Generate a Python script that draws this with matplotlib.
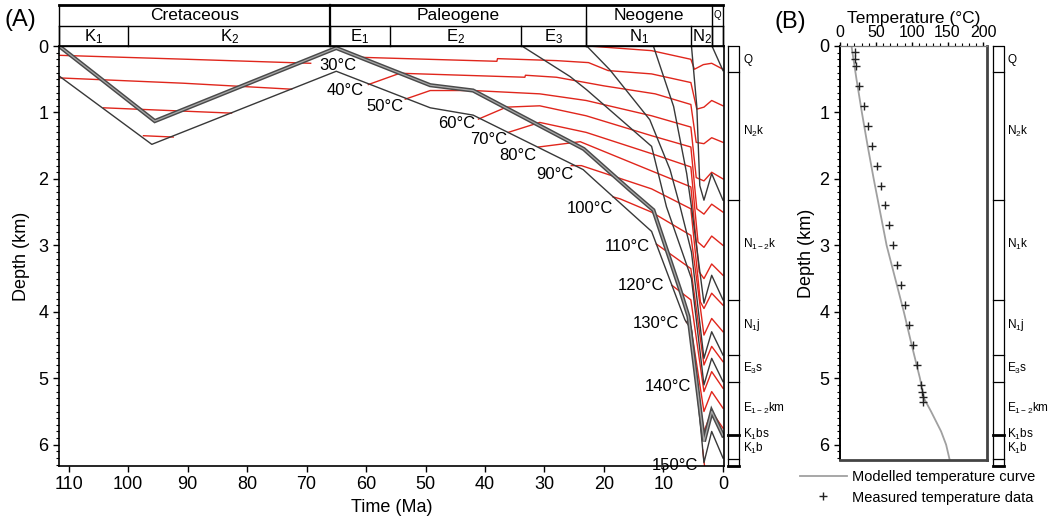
import matplotlib
matplotlib.use('Agg')
import matplotlib.pyplot as plt
from matplotlib.ticker import MultipleLocator

plt.rcParams['font.family'] = ['Liberation Sans', 'DejaVu Sans']
plt.rcParams['mathtext.fontset'] = 'custom'
plt.rcParams['mathtext.rm'] = 'Liberation Sans'
plt.rcParams['mathtext.it'] = 'Liberation Sans'
plt.rcParams['mathtext.default'] = 'regular'

# ---------------- data: burial history (panel A) ----------------
# horizons, (time Ma, depth km)
thick_t = [111.6, 95.5, 65.0, 49.2, 42.0, 23.4, 15.6, 11.7, 7.2, 5.8, 3.2, 1.9, 0.0]
thick_d = [0.0, 1.13, 0.03, 0.59, 0.67, 1.55, 2.17, 2.47, 3.67, 4.07, 5.95, 5.5, 5.86]
base_t = [111.6, 96.0, 65.0, 49.2, 42.0, 23.5, 21.8, 12.0, 6.4, 5.3, 3.2, 1.9, 0.0]
base_d = [0.45, 1.48, 0.38, 0.93, 1.04, 1.86, 2.0, 2.79, 4.12, 4.27, 6.27, 5.8, 6.2]
hor_t = [
    [33.8, 25.7, 22.9, 12.0, 9.5, 5.3, 3.2, 1.9, 0.0],
    [22.9, 19.0, 12.3, 8.9, 7.2, 5.3, 3.2, 1.9, 0.0],
    [11.7, 8.3, 6.1, 5.3, 3.2, 1.9, 0.0],
    [5.3, 4.4, 3.9, 3.2, 1.9, 0.0],
    [1.85, 0.0],
]
hor_d = [
    [0.0, 0.46, 0.66, 1.51, 2.42, 3.5, 5.1, 4.7, 5.05],
    [0.0, 0.36, 1.11, 1.86, 2.42, 3.1, 4.7, 4.3, 4.65],
    [0.0, 0.91, 1.92, 2.42, 3.87, 3.45, 3.82],
    [0.0, 0.91, 2.1, 2.32, 1.92, 2.32],
    [0.0, 0.37],
]

# isotherms in the Cretaceous
k_iso_t = [[111.6, 90.0, 69.3], [111.6, 90.7, 72.5], [104.1, 82.6], [97.4, 92.4]]
k_iso_d = [[0.14, 0.2, 0.26], [0.48, 0.56, 0.65], [0.93, 1.01], [1.35, 1.37]]

# isotherms in the Cenozoic
iso_temp = [20, 30, 40, 50, 60, 70, 80, 90, 100, 110, 120, 130, 140, 150]
iso_t = [
    [22.6, 12.0, 5.4, 4.8, 3.3, 1.9, 0.0],
    [61.0, 38.0, 37.9, 28.0, 22.6, 19.3, 12.0, 5.4, 4.4, 3.2, 1.9, 0.0],
    [59.6, 54.3, 33.3, 33.2, 28.0, 20.0, 11.4, 5.4, 4.5, 3.2, 1.9, 0.0],
    [53.4, 49.2, 42.0, 30.8, 23.0, 12.0, 5.4, 4.5, 3.2, 1.9, 0.0],
    [41.1, 36.4, 30.8, 23.0, 12.0, 5.4, 4.4, 3.2, 1.9, 0.0],
    [36.1, 30.8, 23.0, 12.0, 5.4, 4.2, 3.2, 1.9, 0.0],
    [31.0, 24.0, 12.0, 5.4, 4.0, 3.2, 1.9, 0.0],
    [25.5, 23.8, 12.0, 5.4, 3.8, 3.2, 1.9, 0.0],
    [18.5, 17.3, 12.0, 5.4, 3.2, 1.9, 0.0],
    [11.2, 5.4, 3.2, 1.9, 0.0],
    [8.6, 5.4, 3.2, 1.9, 0.0],
    [6.2, 5.4, 3.2, 1.9, 0.0],
    [4.4, 3.2, 1.9, 0.0],
    [3.4, 3.1],
]
iso_d = [
    [0.0, 0.07, 0.2, 0.35, 0.28, 0.26, 0.35],
    [0.17, 0.23, 0.19, 0.22, 0.25, 0.37, 0.42, 0.55, 0.95, 0.92, 0.82, 0.9],
    [0.58, 0.41, 0.47, 0.44, 0.47, 0.6, 0.72, 0.88, 1.45, 1.47, 1.38, 1.45],
    [0.8, 0.67, 0.67, 0.72, 0.82, 1.05, 1.22, 1.98, 2.03, 1.9, 2.0],
    [1.1, 0.92, 0.9, 1.05, 1.35, 1.52, 2.45, 2.53, 2.38, 2.5],
    [1.3, 1.15, 1.3, 1.62, 1.82, 2.95, 3.03, 2.86, 3.0],
    [1.52, 1.44, 1.88, 2.12, 3.4, 3.5, 3.28, 3.45],
    [1.8, 1.8, 2.15, 2.45, 3.85, 3.95, 3.72, 3.9],
    [2.27, 2.3, 2.5, 2.85, 4.35, 4.1, 4.3],
    [2.98, 3.35, 4.8, 4.52, 4.75],
    [3.6, 3.82, 5.2, 4.9, 5.15],
    [4.15, 4.22, 5.5, 5.2, 5.45],
    [5.1, 5.8, 5.5, 5.75],
    [6.08, 6.32],
]
# isotherm label positions (time, depth)
lab_temp = [30, 40, 50, 60, 70, 80, 90, 100, 110, 120, 130, 140, 150]
lab_t = [64.8, 63.5, 56.8, 44.8, 39.3, 34.5, 28.2, 22.3, 16.1, 13.8, 11.2, 9.3, 8.1]
lab_d = [0.29, 0.67, 0.91, 1.16, 1.40, 1.65, 1.93, 2.45, 3.02, 3.60, 4.18, 5.12, 6.31]

# geological time scale
period_names = ['Cretaceous', 'Paleogene', 'Neogene', 'Q']
period_bounds = [111.6, 66.0, 23.0, 1.85, 0.0]
epoch_names = ['K$_{1}$', 'K$_{2}$', 'E$_{1}$', 'E$_{2}$', 'E$_{3}$', 'N$_{1}$', 'N$_{2}$', '']
epoch_bounds = [111.6, 100.0, 66.0, 56.0, 33.9, 23.0, 5.3, 1.85, 0.0]

# stratigraphic column (present-day depths, km)
strat_bounds = [0.39, 2.32, 3.82, 4.65, 5.05, 5.86, 6.22]
strat_a = ['Q', 'N$_{2}$k', 'N$_{1-2}$k', 'N$_{1}$j', 'E$_{3}$s', 'E$_{1-2}$km', 'K$_{1}$bs', 'K$_{1}$b']
strat_b = ['Q', 'N$_{2}$k', 'N$_{1}$k', 'N$_{1}$j', 'E$_{3}$s', 'E$_{1-2}$km', 'K$_{1}$bs', 'K$_{1}$b']
strat_lab_d = [0.21, 1.28, 2.99, 4.2, 4.85, 5.45, 5.85, 6.05]

# ---------------- data: temperature profile (panel B) ----------------
meas_T = [21, 21, 22, 26.6, 33.6, 38.7, 44.8, 51.3, 56.9, 62.9, 68.5, 74, 78.8, 84.4,
          90.4, 96, 102, 107.7, 113, 114.8, 115.5, 115.5]
meas_d = [0.085, 0.195, 0.3, 0.6, 0.9, 1.2, 1.5, 1.8, 2.1, 2.4, 2.7, 3.0, 3.3, 3.6,
          3.9, 4.2, 4.5, 4.8, 5.1, 5.2, 5.28, 5.36]
model_T = [16, 23, 30.5, 38.5, 47, 56, 65, 77, 89, 100, 111.5, 117, 127, 141, 148, 153]
model_d = [0, 0.5, 1.0, 1.5, 2.0, 2.5, 3.0, 3.5, 4.0, 4.5, 5.0, 5.3, 5.5, 5.8, 6.0, 6.23]

W, H = 1052, 522
RED = '#e0261c'
GREY = '#383838'


def fbox(x0, y0, x1, y1):
    """pixel box -> figure fraction rect"""
    return [x0 / W, 1 - y1 / H, (x1 - x0) / W, (y1 - y0) / H]


def strat_column(fig, rect, ymax, labels, lab_x):
    axc = fig.add_axes(rect)
    axc.set_xlim(0, 1)
    axc.set_ylim(ymax, 0)
    axc.axis('off')
    axc.plot([0, 1, 1, 0, 0], [0, 0, ymax, ymax, 0], color='black', lw=0.9, clip_on=False)
    for i, b in enumerate(strat_bounds):
        axc.plot([0, 1], [b, b], color='black', lw=2.0 if i == 5 else 0.9, clip_on=False)
    axc.plot([0, 1], [ymax, ymax], color='black', lw=2.0, clip_on=False)
    for lab, d in zip(labels, strat_lab_d):
        axc.text(lab_x, d, lab, fontsize=8.5, ha='left', va='center', clip_on=False)
    return axc


fig = plt.figure(figsize=(W / 100, H / 100), dpi=100)

# ---------------- panel A ----------------
ax = fig.add_axes(fbox(59, 46, 724, 466))
ax.set_xlim(111.6, -0.17)
ax.set_ylim(6.32, 0)

for tt, dd in zip(k_iso_t, k_iso_d):
    ax.plot(tt, dd, color=RED, lw=1.0)
for tt, dd in zip(iso_t, iso_d):
    ax.plot(tt, dd, color=RED, lw=1.0)
ax.plot(base_t, base_d, color=GREY, lw=1.0)
for tt, dd in zip(hor_t, hor_d):
    ax.plot(tt, dd, color=GREY, lw=1.0)
ax.plot(thick_t, thick_d, color='#4a4a4a', lw=3.0, solid_joinstyle='miter')
ax.plot(thick_t, thick_d, color='#a8a8a8', lw=0.9)

for temp, tt, dd in zip(lab_temp, lab_t, lab_d):
    ax.text(tt, dd, '%d°C' % temp, fontsize=12, ha='center', va='center', clip_on=False)

ax.set_xticks(range(110, -1, -10))
ax.set_yticks(range(0, 7))
ax.yaxis.set_minor_locator(MultipleLocator(0.1))
ax.tick_params(axis='both', which='major', direction='out', length=4, width=1, labelsize=13)
ax.tick_params(axis='y', which='minor', direction='out', length=2, width=0.8)
for s in ax.spines.values():
    s.set_linewidth(1.2)
ax.set_xlabel('Time (Ma)', fontsize=13, labelpad=4)
ax.set_ylabel('Depth (km)', fontsize=13, labelpad=6)

# time scale header
axh = fig.add_axes(fbox(59, 5, 724, 46), sharex=ax)
axh.set_ylim(0, 2)
axh.axis('off')
axh.plot([111.6, 0], [2, 2], color='black', lw=2.0, clip_on=False)
axh.plot([111.6, 0], [1, 1], color='black', lw=1.0, clip_on=False)
axh.plot([111.6, 0], [0, 0], color='black', lw=1.0, clip_on=False)
for b in period_bounds:
    axh.plot([b, b], [0, 2], color='black', lw=1.6 if b == 66.0 else 1.0, clip_on=False)
for b in epoch_bounds:
    axh.plot([b, b], [0, 1], color='black', lw=1.0, clip_on=False)
for i, name in enumerate(period_names):
    mid = (period_bounds[i] + period_bounds[i + 1]) / 2
    axh.text(mid, 1.5, name, ha='center', va='center', fontsize=7 if name == 'Q' else 12.5)
for i, name in enumerate(epoch_names):
    mid = (epoch_bounds[i] + epoch_bounds[i + 1]) / 2
    if name == 'N$_{2}$':
        mid = 3.6
    axh.text(mid, 0.48, name, ha='center', va='center', fontsize=12)

strat_column(fig, fbox(728, 46, 739, 466), 6.32, strat_a, 1.4)

fig.text(20 / W, 1 - 20 / H, '(A)', fontsize=17, ha='center', va='center')

# ---------------- panel B ----------------
axb = fig.add_axes(fbox(840, 46, 987, 460))
axb.set_xlim(0, 205)
axb.set_ylim(6.23, 0)
mod_line, = axb.plot(model_T, model_d, color='#a0a0a0', lw=1.3, label='Modelled temperature curve')
meas_pts, = axb.plot(meas_T, meas_d, ls='none', marker='+', ms=6, mew=1.0, color='#222222',
                     label='Measured temperature data')
axb.xaxis.tick_top()
axb.xaxis.set_label_position('top')
axb.set_xticks([0, 50, 100, 150, 200])
axb.xaxis.set_minor_locator(MultipleLocator(10))
axb.set_yticks(range(0, 7))
axb.yaxis.set_minor_locator(MultipleLocator(0.1))
axb.tick_params(axis='x', which='major', direction='out', length=3, width=1, labelsize=11.5, pad=1)
axb.tick_params(axis='x', which='minor', direction='out', length=2, width=0.8)
axb.tick_params(axis='y', which='major', direction='out', length=4, width=1, labelsize=13)
axb.tick_params(axis='y', which='minor', direction='out', length=2, width=0.8)
axb.spines['left'].set_linewidth(1.4)
axb.spines['top'].set_linewidth(0.9)
axb.spines['top'].set_color('#777777')
axb.spines['right'].set_linewidth(2.0)
axb.spines['right'].set_color('#444444')
axb.spines['bottom'].set_linewidth(2.0)
axb.spines['bottom'].set_color('#444444')
axb.set_xlabel('Temperature (°C)', fontsize=12.5, labelpad=2)
axb.set_ylabel('Depth (km)', fontsize=13, labelpad=3)

strat_column(fig, fbox(993, 46, 1004, 466), 6.32, strat_b, 1.3)

fig.text(790 / W, 1 - 22 / H, '(B)', fontsize=17, ha='center', va='center')

fig.legend(handles=[mod_line, meas_pts], loc='upper left',
           bbox_to_anchor=(800 / W, 1 - 470 / H), frameon=False, fontsize=10.5,
           handlelength=3.2, handletextpad=0.4, labelspacing=0.45, borderpad=0,
           borderaxespad=0)

fig.savefig('out.png', dpi=100)
